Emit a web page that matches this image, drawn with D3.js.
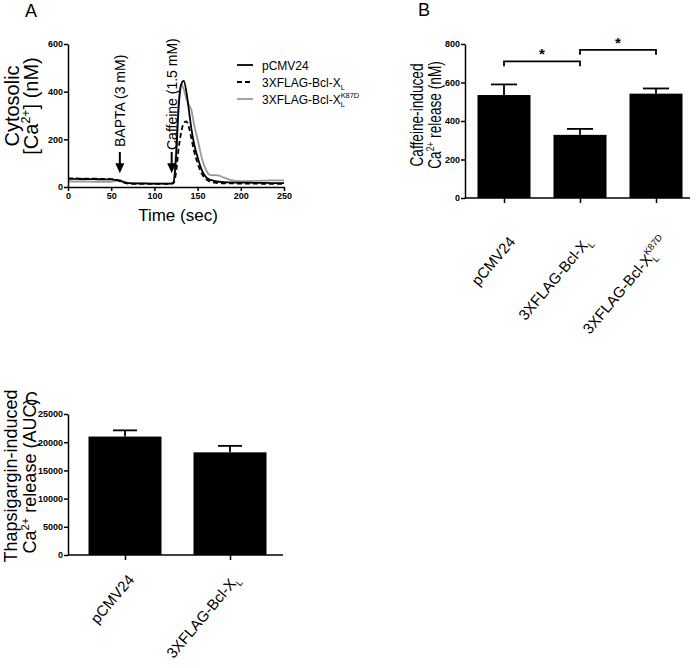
<!DOCTYPE html>
<meta charset="utf-8">
<html>
<head>
<style>
body { margin:0; background:#fff; }
svg { display:block; }
text { font-family: "Liberation Sans", Arial, sans-serif; fill:#000; }
</style>
<script src="https://d3js.org/d3.v7.min.js"></script>
</head>
<body>
<svg width="697" height="668"></svg>
<script>
// ---- data ----
// panel A: cytosolic Ca2+ traces (nM) vs time (sec)
var timeSec = [0, 10, 20, 30, 40, 50, 55, 60, 65, 70, 80, 90, 100, 110, 118, 122, 125, 128, 131, 134, 137, 140, 143, 146, 150, 155, 160, 165, 170, 175, 180, 190, 200, 210, 220, 230, 240, 250];
var pcmv24 = [34, 34, 33, 33, 32, 32, 30, 26, 20, 16, 15, 15, 14, 14, 14, 18, 120, 330, 430, 445, 400, 320, 240, 180, 125, 70, 40, 30, 25, 22, 20, 19, 18, 18, 17, 17, 16, 16];
var bclxl = [36, 36, 35, 35, 34, 33, 31, 25, 18, 14, 13, 13, 13, 13, 13, 16, 60, 160, 230, 268, 275, 250, 200, 150, 100, 55, 32, 22, 18, 16, 15, 15, 14, 14, 14, 13, 13, 13];
var k87d = [24, 23, 23, 22, 22, 22, 25, 30, 22, 16, 15, 14, 14, 14, 14, 20, 160, 360, 432, 410, 370, 345, 320, 260, 200, 120, 70, 50, 50, 48, 40, 28, 25, 25, 26, 27, 28, 28];
var timeTicks = [0, 50, 100, 150, 200, 250];
var caTicks = [0, 200, 400, 600];
var additions = [{t: 60, label: "BAPTA (3 mM)"}, {t: 120, label: "Caffeine (1.5 mM)"}];

// panel B: caffeine-induced release (nM)
var groupsB = ["pCMV24", "Bcl-XL", "Bcl-XL K87D"];
var caffMean = [535, 328, 542];
var caffErr = [55, 31, 27];
var caffTicks = [0, 200, 400, 600, 800];

// panel C: thapsigargin-induced release (AUC)
var groupsC = ["pCMV24", "Bcl-XL"];
var thapsMean = [21000, 18200];
var thapsErr = [1100, 1150];
var thapsTicks = [0, 5000, 10000, 15000, 20000, 25000];

// label pieces: [text, "sub"/"sup"/"stack"/null]
var labelParts = {
    "pCMV24": [["pCMV24", null]],
    "Bcl-XL": [["3XFLAG-Bcl-X", null], ["L", "sub"]],
    "Bcl-XL K87D": [["3XFLAG-Bcl-X", null], ["L", "sub"], ["K87D", "stack"]]
};

var svg = d3.select("svg");

function styleAxis(g) {
    g.selectAll("path, line").attr("stroke", "#000").attr("stroke-width", 1.5);
    g.selectAll("text")
        .attr("font-family", "Liberation Sans, Arial, sans-serif")
        .attr("font-weight", "bold")
        .attr("font-size", 9)
        .attr("fill", "#000");
}

// write pieces with sub / superscripts into a text element
function writeParts(t, parts, size) {
    var shift = 0;
    parts.forEach(function(p) {
        var s = t.append("tspan").text(p[0]);
        var target = 0, dx = null;
        if (p[1] === "sub") { target = size * 0.3; s.attr("font-size", size * 0.62); }
        if (p[1] === "sup") { target = -size * 0.4; s.attr("font-size", size * 0.62); }
        if (p[1] === "stack") { target = -size * 0.45; s.attr("font-size", size * 0.62); dx = -size * 0.35; }
        s.attr("dy", target - shift);
        if (dx !== null) s.attr("dx", dx);
        shift = target;
    });
}

// vertical text: outer group moves, inner group turns
function vertical(x, y, sx) {
    return svg.append("g").attr("transform", "translate(" + x + "," + y + ")")
        .append("g").attr("transform", "rotate(-90)")
        .append("g").attr("transform", "scale(" + (sx || 1) + ",1)");
}

function panelLabel(txt, x, y) {
    svg.append("text").attr("x", x).attr("y", y).attr("font-size", 18).text(txt);
}

function yTitle(xs, y, lines, size, squeeze) {
    lines.forEach(function(parts, i) {
        var t = vertical(xs[i], y, squeeze).append("text")
            .attr("x", 0).attr("y", 0)
            .attr("text-anchor", "middle")
            .attr("font-size", size);
        writeParts(t, parts, size);
    });
}

// ================= A =================
var xA = d3.scaleLinear().domain([0, 250]).range([68, 284]);
var yA = d3.scaleLinear().domain([0, 600]).range([187, 44]);

panelLabel("A", 25, 17);

var lineA = d3.line()
    .x(function(d, i) { return xA(timeSec[i]); })
    .y(function(d) { return yA(d); })
    .curve(d3.curveMonotoneX);

var seriesA = [
    {values: k87d, color: "#9a9a9a", dash: null},
    {values: bclxl, color: "#000", dash: "5,3"},
    {values: pcmv24, color: "#000", dash: null}
];
svg.selectAll(".trace").data(seriesA).enter().append("path")
    .attr("class", "trace")
    .attr("d", function(d) { return lineA(d.values); })
    .attr("fill", "none")
    .attr("stroke", function(d) { return d.color; })
    .attr("stroke-width", 1.8)
    .attr("stroke-dasharray", function(d) { return d.dash; });

svg.append("g").attr("transform", "translate(0,187)")
    .call(d3.axisBottom(xA).tickValues(timeTicks).tickSize(4).tickSizeOuter(0).tickPadding(2))
    .call(styleAxis);
svg.append("g").attr("transform", "translate(68,0)")
    .call(d3.axisLeft(yA).tickValues(caTicks).tickSize(4).tickSizeOuter(0).tickPadding(1))
    .call(styleAxis);

// addition arrows
additions.forEach(function(a, i) {
    var x = xA(a.t);
    svg.append("line").attr("x1", x).attr("x2", x)
        .attr("y1", yA(147)).attr("y2", yA(90))
        .attr("stroke", "#000").attr("stroke-width", 2);
    svg.append("path")
        .attr("d", "M" + (x - 4.5) + "," + yA(100) + "L" + (x + 4.5) + "," + yA(100) + "L" + x + "," + yA(58) + "Z")
        .attr("fill", "#000");
    vertical(x + 5, i === 0 ? 147 : 150).append("text")
        .attr("x", 0).attr("y", 0)
        .attr("font-size", 14)
        .text(a.label);
});

svg.append("text").attr("x", 178).attr("y", 221).attr("text-anchor", "middle")
    .attr("font-size", 17).text("Time (sec)");

yTitle([19, 38], 106,
    [[["Cytosolic", null]], [["[Ca", null], ["2+", "sup"], ["] (nM)", null]]], 20, 1);

// legend
var legendA = [
    {parts: labelParts["pCMV24"], color: "#000", dash: null},
    {parts: labelParts["Bcl-XL"], color: "#000", dash: "5,3"},
    {parts: labelParts["Bcl-XL K87D"], color: "#9a9a9a", dash: null}
];
legendA.forEach(function(d, i) {
    var y = 65 + i * 17;
    svg.append("line").attr("x1", 237).attr("x2", 253).attr("y1", y).attr("y2", y)
        .attr("stroke", d.color).attr("stroke-width", 1.8).attr("stroke-dasharray", d.dash);
    var t = svg.append("text").attr("x", 262).attr("y", y + 4.5).attr("font-size", 12);
    writeParts(t, d.parts, 12);
});

// ================= B =================
var xB = d3.scalePoint().domain(groupsB).range([504, 656]);
var yB = d3.scaleLinear().domain([0, 800]).range([198, 44]);
var barWB = 53;

panelLabel("B", 418, 16);

svg.selectAll(".barB").data(groupsB).enter().append("rect")
    .attr("x", function(d) { return xB(d) - barWB / 2; })
    .attr("y", function(d, i) { return yB(caffMean[i]); })
    .attr("width", barWB)
    .attr("height", function(d, i) { return yB(0) - yB(caffMean[i]); })
    .attr("fill", "#000");

groupsB.forEach(function(g, i) {
    var x = xB(g);
    svg.append("line").attr("x1", x).attr("x2", x)
        .attr("y1", yB(caffMean[i])).attr("y2", yB(caffMean[i] + caffErr[i]))
        .attr("stroke", "#000").attr("stroke-width", 1.8);
    svg.append("line").attr("x1", x - 13).attr("x2", x + 13)
        .attr("y1", yB(caffMean[i] + caffErr[i])).attr("y2", yB(caffMean[i] + caffErr[i]))
        .attr("stroke", "#000").attr("stroke-width", 1.8);
});

svg.append("line").attr("x1", 465).attr("x2", 690).attr("y1", 198).attr("y2", 198)
    .attr("stroke", "#000").attr("stroke-width", 1.5);
svg.append("g").attr("transform", "translate(0,198)")
    .call(d3.axisBottom(xB).tickSize(5).tickSizeOuter(0).tickFormat(""))
    .call(styleAxis)
    .select(".domain").remove();
svg.append("g").attr("transform", "translate(465,0)")
    .call(d3.axisLeft(yB).tickValues(caffTicks).tickSize(4).tickSizeOuter(0).tickPadding(1))
    .call(styleAxis);

groupsB.forEach(function(g) {
    var t = svg.append("text")
        .attr("transform", "translate(" + [xB(g) + 12, 242] + ") rotate(-50)")
        .attr("text-anchor", "end")
        .attr("font-size", 15);
    writeParts(t, labelParts[g], 15);
});

// significance brackets
var brackets = [{a: 0, b: 1, level: 710}, {a: 1, b: 2, level: 770}];
brackets.forEach(function(br) {
    var x1 = xB(groupsB[br.a]), x2 = xB(groupsB[br.b]), y = yB(br.level);
    svg.append("path")
        .attr("d", "M" + x1 + "," + (y + 5) + "V" + y + "H" + x2 + "V" + (y + 5))
        .attr("fill", "none").attr("stroke", "#000").attr("stroke-width", 1.8);
    svg.append("text").attr("x", (x1 + x2) / 2).attr("y", y - 2)
        .attr("text-anchor", "middle").attr("font-size", 15).attr("font-weight", "bold").text("*");
});

yTitle([423, 441], 115,
    [[["Caffeine-induced", null]], [["Ca", null], ["2+", "sup"], [" release (nM)", null]]], 18, 0.76);

// ================= C =================
var xC = d3.scalePoint().domain(groupsC).range([125, 230]);
var yC = d3.scaleLinear().domain([0, 25000]).range([555, 414]);
var barWC = 73;

panelLabel("C", 25, 405);

svg.selectAll(".barC").data(groupsC).enter().append("rect")
    .attr("x", function(d) { return xC(d) - barWC / 2; })
    .attr("y", function(d, i) { return yC(thapsMean[i]); })
    .attr("width", barWC)
    .attr("height", function(d, i) { return yC(0) - yC(thapsMean[i]); })
    .attr("fill", "#000");

groupsC.forEach(function(g, i) {
    var x = xC(g);
    svg.append("line").attr("x1", x).attr("x2", x)
        .attr("y1", yC(thapsMean[i])).attr("y2", yC(thapsMean[i] + thapsErr[i]))
        .attr("stroke", "#000").attr("stroke-width", 1.8);
    svg.append("line").attr("x1", x - 12).attr("x2", x + 12)
        .attr("y1", yC(thapsMean[i] + thapsErr[i])).attr("y2", yC(thapsMean[i] + thapsErr[i]))
        .attr("stroke", "#000").attr("stroke-width", 1.8);
});

svg.append("line").attr("x1", 68).attr("x2", 283).attr("y1", 555).attr("y2", 555)
    .attr("stroke", "#000").attr("stroke-width", 1.5);
svg.append("g").attr("transform", "translate(0,555)")
    .call(d3.axisBottom(xC).tickSize(5).tickSizeOuter(0).tickFormat(""))
    .call(styleAxis)
    .select(".domain").remove();
svg.append("g").attr("transform", "translate(68,0)")
    .call(d3.axisLeft(yC).tickValues(thapsTicks).tickSize(4).tickSizeOuter(0).tickPadding(1)
        .tickFormat(d3.format("d")))
    .call(styleAxis);

groupsC.forEach(function(g) {
    var t = svg.append("text")
        .attr("transform", "translate(" + [xC(g) + 10, 580] + ") rotate(-50)")
        .attr("text-anchor", "end")
        .attr("font-size", 15);
    writeParts(t, labelParts[g], 15);
});

yTitle([17, 36], 476,
    [[["Thapsigargin-induced", null]], [["Ca", null], ["2+", "sup"], [" release (AUC)", null]]], 18, 1);
</script>
</body>
</html>
